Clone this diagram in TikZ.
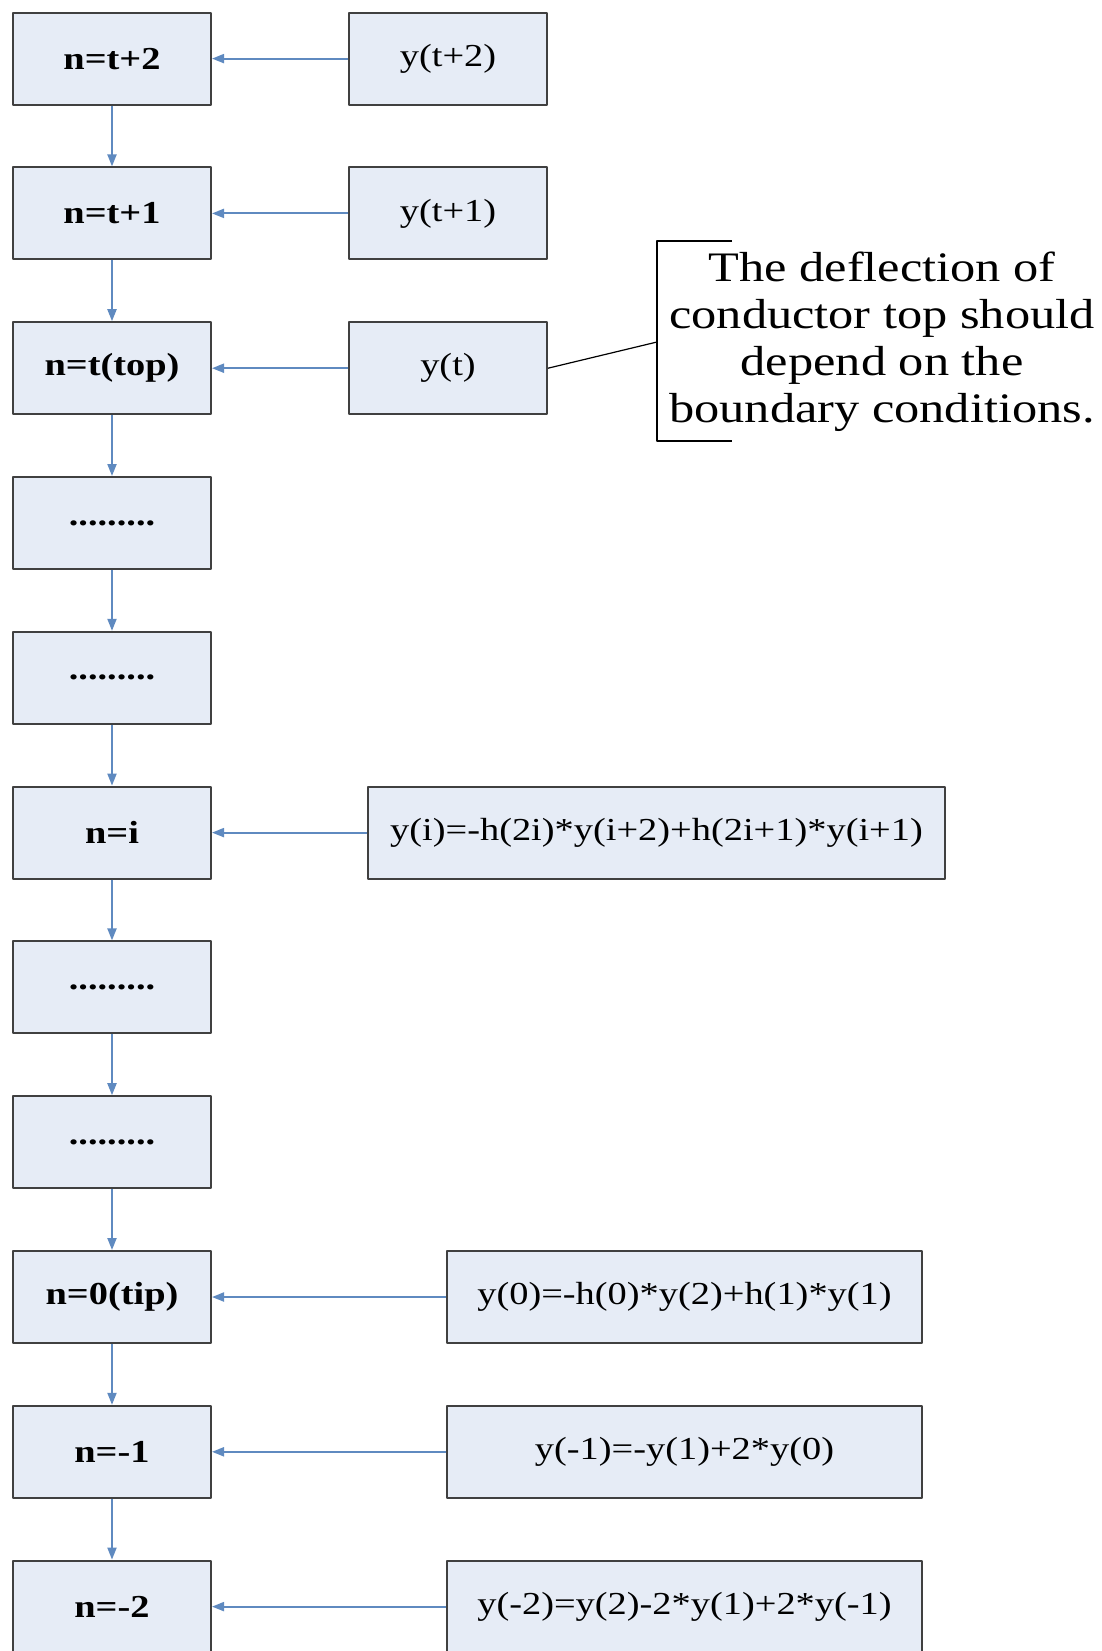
\documentclass[tikz,border=0pt]{standalone}
\usepackage{fontspec}
\setmainfont{Liberation Serif}[FakeStretch=1.2]
\usetikzlibrary{arrows.meta}
\definecolor{boxfill}{HTML}{E6ECF6}
\definecolor{flowblue}{HTML}{5F8AC0}
\begin{document}
\begin{tikzpicture}[x=0.5pt, y=-0.5pt, line join=round]
\tikzstyle{nbox} = [draw=black!75, line width=1pt, fill=boxfill, minimum width=99pt, minimum height=46pt, inner sep=0pt, font=\fontsize{16}{19}\selectfont\bfseries]
\tikzstyle{ybox} = [draw=black!75, line width=1pt, fill=boxfill, minimum height=46pt, inner sep=0pt, font=\fontsize{16}{19}\selectfont]
\tikzstyle{flow} = [draw=flowblue, line width=1pt, -{Triangle[width=4.5pt,length=6pt]}]
  \useasboundingbox (0,0) rectangle (1102,1651);
  % left column
  \foreach \i/\lbl in {0/{n=t+2},1/{n=t+1},2/{n=t(top)},3/{.........},4/{.........},5/{n=i},6/{.........},7/{.........},8/{n=0(tip)},9/{n=-1},10/{n=-2}}{
    \node[nbox] (n\i) at (112,58.6+154.8*\i) {\lbl};
  }
  \foreach \i in {0,...,9}{
    \pgfmathtruncatemacro{\j}{\i+1}
    \draw[flow] (n\i) -- (n\j);
  }
  % right column
  \node[ybox, minimum width=99pt] (y2) at (448,58.6) {y(t+2)};
  \node[ybox, minimum width=99pt] (y1) at (448,58.6+154.8) {y(t+1)};
  \node[ybox, minimum width=99pt] (yt) at (448,58.6+154.8*2) {y(t)};
  \node[ybox, minimum width=288.5pt] (yi) at (656.5,58.6+154.8*5) {y(i)=-h(2i)*y(i+2)+h(2i+1)*y(i+1)};
  \node[ybox, minimum width=237.5pt] (y0) at (684.5,58.6+154.8*8) {y(0)=-h(0)*y(2)+h(1)*y(1)};
  \node[ybox, minimum width=237.5pt] (ym1) at (684.5,58.6+154.8*9) {y(-1)=-y(1)+2*y(0)};
  \node[ybox, minimum width=237.5pt] (ym2) at (684.5,58.6+154.8*10) {y(-2)=y(2)-2*y(1)+2*y(-1)};
  \draw[flow] (y2) -- (n0);
  \draw[flow] (y1) -- (n1);
  \draw[flow] (yt) -- (n2);
  \draw[flow] (yi) -- (n5);
  \draw[flow] (y0) -- (n8);
  \draw[flow] (ym1) -- (n9);
  \draw[flow] (ym2) -- (n10);
  % callout
  \coordinate (brk) at (657,342);
  \draw[line width=0.6pt] (yt.east) -- (brk);
  \draw[line width=0.6pt] (732,241) -- (657,241) -- (657,441) -- (732,441);
  \node[align=center, inner sep=0pt, font=\fontsize{21}{23.5}\selectfont] (note) at (882,342)
    {The deflection of\\conductor top should\\depend on the\\boundary conditions.};
\end{tikzpicture}
\end{document}
